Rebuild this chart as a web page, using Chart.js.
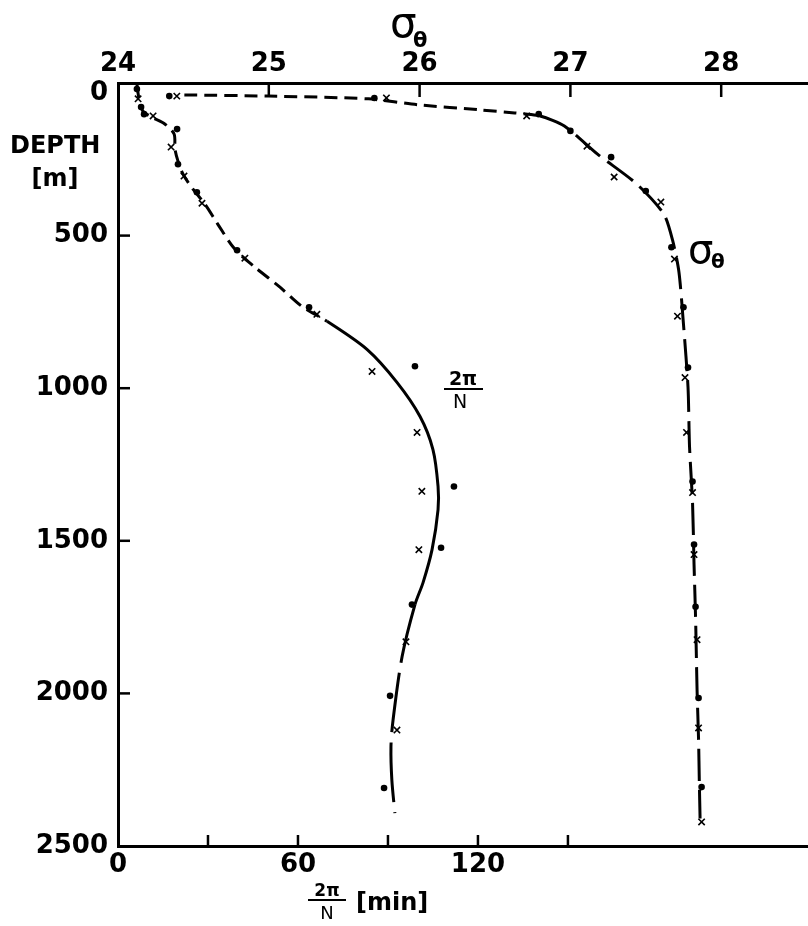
<!DOCTYPE html>
<html><head><meta charset="utf-8">
<script src="https://cdn.jsdelivr.net/npm/chart.js@4/dist/chart.umd.min.js"></script>
<style>html,body{margin:0;padding:0;background:#fff;overflow:hidden;}#wrap{width:808px;height:926px;overflow:hidden;}</style>
</head><body><div id="wrap"><canvas id="c" width="814" height="926"></canvas></div>
<script>
// ---- axis ticks ----
const sigmaTicks = [24, 25, 26, 27, 28];
const depthTicks = [0, 500, 1000, 1500, 2000, 2500];
const periodLabels = [0, 60, 120];
const periodTickMarks = [30, 60, 90, 120, 150];
const sigmaRange = [24, 28.575];
const periodRange = [0, 230];
const depthRange = [0, 2500];

// ---- sigma-theta: fitted curve ----
const sigmaCurveS = [24.44, 25.00, 25.66, 26.00, 26.40, 26.63, 26.80, 26.96, 27.18, 27.44, 27.62, 27.68, 27.72, 27.75, 27.78, 27.79, 27.81, 27.82, 27.83, 27.84, 27.85, 27.855, 27.86];
const sigmaCurveD = [39, 43, 52, 72, 88, 98, 108, 141, 233, 331, 430, 520, 620, 791, 997, 1191, 1375, 1578, 1749, 1988, 2152, 2290, 2410];
// sigma-theta: dots
const sigmaDotS = [24.34, 25.70, 26.79, 27.00, 27.27, 27.50, 27.67, 27.75, 27.78, 27.81, 27.82, 27.83, 27.85, 27.87];
const sigmaDotD = [43, 49, 102, 157, 243, 354, 538, 735, 932, 1306, 1512, 1716, 2015, 2307];
// sigma-theta: crosses
const sigmaCrossS = [24.39, 25.78, 26.71, 27.11, 27.29, 27.60, 27.69, 27.71, 27.76, 27.77, 27.81, 27.82, 27.84, 27.85, 27.87];
const sigmaCrossD = [43, 49, 108, 207, 308, 390, 577, 764, 965, 1145, 1342, 1545, 1824, 2113, 2421];

// ---- 2pi/N [min]: fitted curve ----
const periodCurveN = [6.3, 7.0, 8.3, 11.3, 15.7, 18.7, 19.0, 20.0, 21.7, 25.0, 29.0, 33.3, 39.0, 45.7, 54.0, 61.3, 69.7, 83.0, 93.0, 100.7, 105.0, 106.7, 106.7, 104.7, 101.7, 99.0, 94.7, 91.7, 91.0, 91.3, 92.3];
const periodCurveD = [3, 52, 92, 112, 135, 167, 217, 256, 299, 348, 397, 463, 545, 604, 669, 732, 781, 873, 981, 1093, 1201, 1322, 1398, 1529, 1637, 1709, 1880, 2087, 2175, 2284, 2392];
// 2pi/N: dots
const periodDotN = [6.3, 7.7, 8.7, 19.7, 20.0, 26.3, 39.7, 63.7, 99.0, 112.0, 107.7, 98.0, 90.7, 88.7];
const periodDotD = [20, 79, 102, 151, 266, 358, 548, 735, 928, 1322, 1523, 1709, 2008, 2310];
// 2pi/N: crosses
const periodCrossN = [6.7, 11.7, 17.7, 22.0, 28.0, 42.3, 66.3, 84.7, 99.7, 101.3, 100.3, 96.0, 93.0];
const periodCrossD = [52, 108, 210, 305, 394, 574, 758, 945, 1145, 1338, 1529, 1831, 2120];

const pts = (xs, ys) => xs.map((x, i) => ({x: x, y: ys[i]}));
const FONT = 'DejaVu Sans';

const overlay = {
  id: 'overlay',
  afterDraw(chart) {
    const ctx = chart.ctx, a = chart.chartArea;
    const sy = chart.scales.y, sx = chart.scales.xs, sn = chart.scales.xn;
    ctx.save();
    ctx.strokeStyle = '#000'; ctx.fillStyle = '#000'; ctx.lineWidth = 2.5; ctx.lineCap = 'butt';
    const seg = (x1, y1, x2, y2) => { ctx.beginPath(); ctx.moveTo(x1, y1); ctx.lineTo(x2, y2); ctx.stroke(); };
    depthTicks.forEach(v => { if (v > depthRange[0] && v < depthRange[1]) { const p = sy.getPixelForValue(v); seg(a.left, p, a.left + 12, p); } });
    sigmaTicks.forEach(v => { if (v > sigmaRange[0]) { const p = sx.getPixelForValue(v); seg(p, a.top, p, a.top + 14); } });
    periodTickMarks.forEach(v => { const p = sn.getPixelForValue(v); seg(p, a.bottom, p, a.bottom - 11); });

    // depth "0" label (set slightly below the corner)
    ctx.font = 'bold 26px ' + FONT; ctx.textAlign = 'right'; ctx.textBaseline = 'middle';
    ctx.fillText('0', a.left - 10, sy.getPixelForValue(0) + 10);

    // DEPTH [m]
    ctx.font = 'bold 24px ' + FONT; ctx.textAlign = 'left'; ctx.textBaseline = 'alphabetic';
    ctx.fillText('DEPTH', 10, 153);
    ctx.textAlign = 'center';
    ctx.fillText('[m]', 55, 186);

    // top title sigma-theta
    ctx.textAlign = 'left';
    ctx.font = '42px ' + FONT; ctx.fillText('σ', 390, 37);
    ctx.font = 'bold 21px ' + FONT; ctx.fillText('θ', 413, 47);

    // curve label sigma-theta
    ctx.font = '40px ' + FONT; ctx.fillText('σ', 688, 263);
    ctx.font = 'bold 20px ' + FONT; ctx.fillText('θ', 711, 268);

    // in-plot 2pi/N label
    ctx.textAlign = 'center';
    ctx.font = 'bold 19px ' + FONT; ctx.fillText('2π', 463, 385);
    ctx.lineWidth = 2; seg(444, 389, 483, 389);
    ctx.font = '19px ' + FONT; ctx.fillText('N', 460, 408);

    // bottom axis title
    ctx.font = 'bold 17px ' + FONT; ctx.fillText('2π', 327, 896);
    seg(308, 900, 346, 900);
    ctx.font = '18px ' + FONT; ctx.fillText('N', 327, 919);
    ctx.textAlign = 'left';
    ctx.font = 'bold 24px ' + FONT; ctx.fillText('[min]', 356, 910);
    ctx.restore();
  }
};

const tickFont = {family: FONT, size: 26, weight: 'bold'};
const zeroPad = s => { s.paddingTop = 0; s.paddingBottom = 0; s.paddingLeft = 0; s.paddingRight = 0; };

new Chart(document.getElementById('c'), {
  type: 'scatter',
  data: {
    datasets: [
      { data: pts(sigmaCurveS, sigmaCurveD), xAxisID: 'xs', yAxisID: 'y', showLine: true, pointRadius: 0,
        borderColor: '#000', borderWidth: 3, tension: 0.25,
        segment: { borderDash: c => c.p0.parsed.y < 100 ? [13, 7] : [32, 9] } },
      { data: pts(sigmaDotS, sigmaDotD), xAxisID: 'xs', yAxisID: 'y', pointStyle: 'circle', pointRadius: 3.3,
        backgroundColor: '#000', borderWidth: 0, clip: false },
      { data: pts(sigmaCrossS, sigmaCrossD), xAxisID: 'xs', yAxisID: 'y', pointStyle: 'crossRot', pointRadius: 4.5,
        borderColor: '#000', borderWidth: 1.6, clip: false },
      { data: pts(periodCurveN, periodCurveD), xAxisID: 'xn', yAxisID: 'y', showLine: true, pointRadius: 0,
        borderColor: '#000', borderWidth: 3, tension: 0.3,
        segment: { borderDash: c => c.p0.parsed.y < 740 ? [14, 7] : (c.p0.parsed.y > 1700 ? [60, 10] : []) } },
      { data: pts(periodDotN, periodDotD), xAxisID: 'xn', yAxisID: 'y', pointStyle: 'circle', pointRadius: 3.3,
        backgroundColor: '#000', borderWidth: 0, clip: false },
      { data: pts(periodCrossN, periodCrossD), xAxisID: 'xn', yAxisID: 'y', pointStyle: 'crossRot', pointRadius: 4.5,
        borderColor: '#000', borderWidth: 1.6, clip: false }
    ]
  },
  options: {
    responsive: false, animation: false, devicePixelRatio: 1,
    layout: { padding: 0 },
    plugins: { legend: { display: false }, tooltip: { enabled: false } },
    scales: {
      y: { type: 'linear', position: 'left', reverse: true, min: depthRange[0], max: depthRange[1],
        afterFit: s => { s.width = 118; zeroPad(s); },
        grid: { display: false, drawTicks: false }, border: { display: true, width: 3, color: '#000' },
        ticks: { stepSize: 500, padding: 10, color: '#000', font: tickFont, autoSkip: false,
          callback: v => (depthTicks.includes(v) && v !== 0) ? String(v) : '' } },
      xs: { type: 'linear', position: 'top', min: sigmaRange[0], max: sigmaRange[1],
        afterFit: s => { s.height = 83; zeroPad(s); },
        grid: { display: false, drawTicks: false }, border: { display: true, width: 3, color: '#000' },
        ticks: { stepSize: 1, includeBounds: false, padding: 3, color: '#000', font: tickFont, autoSkip: false, maxRotation: 0,
          callback: v => sigmaTicks.includes(v) ? String(v) : '' } },
      xn: { type: 'linear', position: 'bottom', min: periodRange[0], max: periodRange[1],
        afterFit: s => { s.height = 80; zeroPad(s); },
        grid: { display: false, drawTicks: false }, border: { display: true, width: 3, color: '#000' },
        ticks: { stepSize: 30, includeBounds: false, padding: 4, color: '#000', font: tickFont, autoSkip: false, maxRotation: 0,
          callback: v => periodLabels.includes(v) ? String(v) : '' } }
    }
  },
  plugins: [overlay]
});
</script>
</body></html>
